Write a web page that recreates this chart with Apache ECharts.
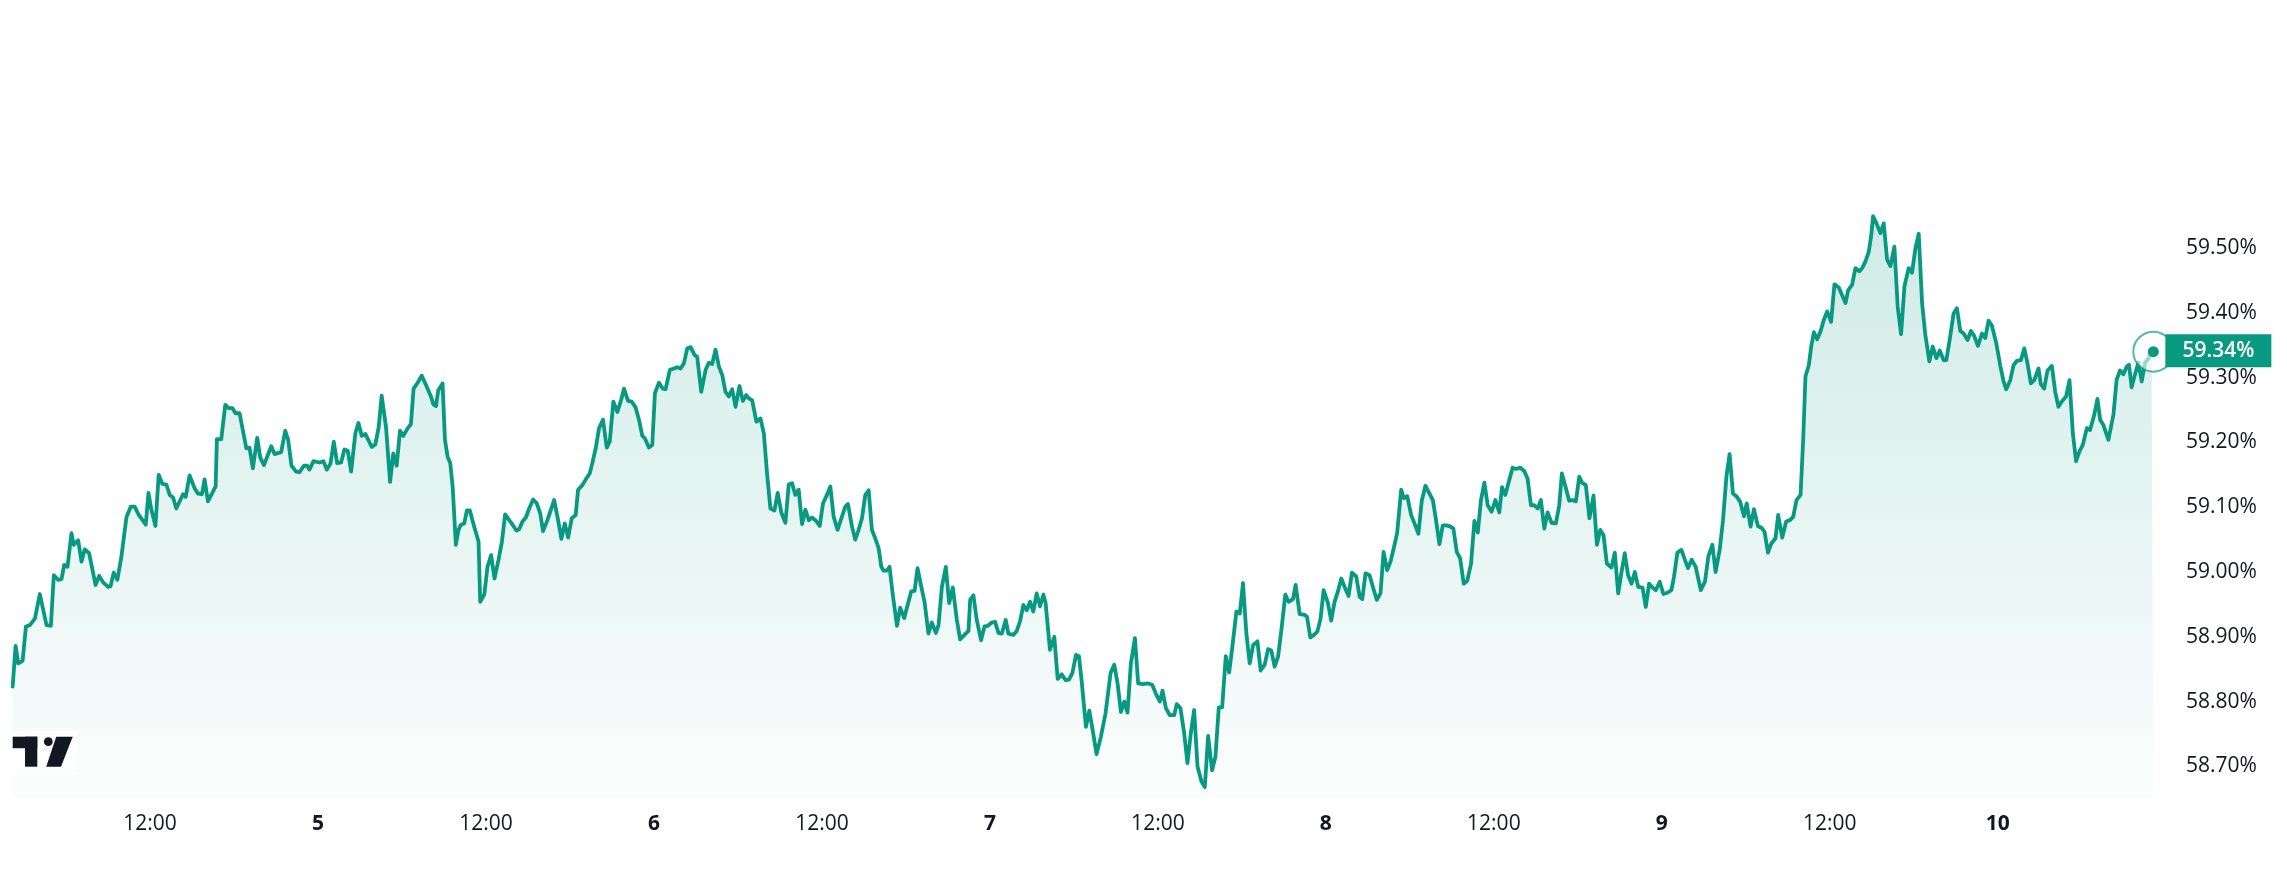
<!DOCTYPE html>
<html>
<head>
<meta charset="utf-8">
<script src="https://cdn.jsdelivr.net/npm/echarts@6/dist/echarts.min.js"></script>
<style>
html,body{margin:0;padding:0;background:#ffffff;}
#chart{width:2287px;height:882px;}
</style>
</head>
<body>
<div id="chart"></div>
<script>
// Hours since day "4" 00:00 (x) and dominance values in % (y)
var hours = [
2.19,2.40,2.59,2.90,3.14,3.42,3.78,4.13,4.61,4.92,5.13,5.44,5.68,5.87,6.11,6.39,6.56,6.87,7.11,7.34,7.65,8.11,8.37,8.65,9.01,9.18,9.41,9.67,9.96,10.32,10.63,10.91,11.20,11.70,11.89,12.10,12.39,12.62,12.88,13.17,13.41,13.65,13.88,14.36,14.55,14.83,15.19,15.43,15.71,15.90,16.14,16.69,16.78,17.09,17.38,17.62,17.88,18.11,18.40,18.88,19.11,19.35,19.66,19.87,20.14,20.66,20.90,21.37,21.66,21.87,22.11,22.44,22.68,22.99,23.23,23.39,23.68,24.11,24.39,24.63,24.89,25.13,25.37,25.65,25.89,26.13,26.37,26.67,26.89,27.13,27.39,27.84,28.10,28.34,28.55,
28.86,29.15,29.38,29.62,29.86,30.10,30.41,30.64,30.83,31.12,31.41,31.71,32.07,32.24,32.43,32.59,32.90,33.07,33.26,33.45,33.62,33.74,33.85,34.04,34.21,34.45,34.64,34.85,35.16,35.47,35.59,35.88,36.11,36.37,36.61,36.90,37.14,37.37,37.66,37.90,38.18,38.37,38.61,38.85,39.09,39.37,39.63,39.87,40.08,40.39,40.87,41.11,41.39,41.63,41.87,42.13,42.41,42.58,42.89,43.13,43.41,43.60,43.84,44.08,44.36,44.63,44.84,45.10,45.39,45.65,45.86,46.15,46.41,46.69,46.93,47.17,47.36,47.64,47.88,48.07,48.36,48.64,48.83,49.14,49.43,49.67,49.90,50.14,50.38,50.62,50.90,51.09,51.38,51.69,51.92,52.16,52.40,52.64,52.88,53.11,53.35,53.59,53.83,54.11,54.35,54.59,54.78,55.02,
55.32,55.61,55.85,56.08,56.32,56.61,56.84,57.11,57.39,57.63,57.87,58.10,58.34,58.58,58.82,59.06,59.29,59.58,59.84,60.08,60.36,60.60,60.84,61.12,61.39,61.67,61.86,62.15,62.38,62.62,62.86,63.10,63.34,63.57,63.81,64.05,64.24,64.41,64.64,64.83,65.05,65.36,65.59,65.88,66.12,66.38,66.62,66.83,67.07,67.33,67.61,67.85,68.14,68.33,68.57,68.85,69.09,69.35,69.64,69.87,70.18,70.47,70.59,70.82,71.06,71.37,71.61,71.85,72.13,72.37,72.61,72.85,73.13,73.32,73.68,73.92,74.15,74.39,74.63,74.87,75.10,75.34,75.58,75.82,75.98,76.29,76.60,76.84,77.13,77.41,77.65,77.89,78.15,78.36,78.55,78.86,79.10,79.34,79.62,79.93,80.26,80.62,80.88,81.12,81.36,
81.60,81.83,82.07,82.36,82.59,82.95,83.31,83.59,83.90,84.14,84.33,84.57,84.85,85.16,85.35,85.61,85.88,86.11,86.35,86.59,86.83,87.11,87.35,87.59,87.87,88.11,88.35,88.59,88.85,89.09,89.32,89.61,89.85,90.08,90.32,90.56,90.80,91.11,91.34,91.63,91.87,92.10,92.34,92.58,92.82,93.10,93.34,93.65,93.84,94.13,94.48,94.65,94.89,95.15,95.39,95.62,95.84,96.15,96.38,96.62,96.86,97.10,97.34,97.62,97.86,98.17,98.41,98.60,98.83,99.12,99.36,99.64,99.90,100.12,100.38,100.62,100.85,101.09,
101.38,101.57,101.81,102.09,102.33,102.61,102.85,103.11,103.40,103.64,103.87,104.11,104.35,104.63,104.90,105.11,105.35,105.59,105.85,106.09,106.37,106.61,106.85,107.08,107.32,107.56,107.84,108.11,108.39,108.58,108.82,109.10,109.34,109.58,109.89,110.17,110.41,110.65,110.89,111.13,111.36,111.60,111.84,112.12,112.43,112.67,112.86,113.10,113.38,113.62,113.86,114.10,114.29,114.57,114.83,115.12,115.36,115.60,115.83,116.07,116.40,116.64,116.88,117.12,117.35,117.59,117.83,118.07,118.31,118.62,118.85,119.09,119.33,119.57,119.85,120.11,120.40,120.68,120.87,121.11,121.40,121.64,121.87,122.13,122.42,122.78,
123.08,123.32,123.61,123.84,124.13,124.37,124.61,124.84,125.08,125.32,125.58,125.87,126.06,126.34,126.58,126.86,127.13,127.34,127.58,127.82,128.12,128.31,128.60,128.88,129.15,129.38,129.62,129.91,130.10,130.26,130.50,130.67,130.86,131.10,131.33,131.57,131.81,132.09,132.33,132.64,132.88,133.12,133.31,133.59,133.83,134.12,134.31,134.54,134.78,134.95,135.09,135.33,135.61,135.85,136.09,136.33,136.61,136.85,137.09,137.33,137.63,137.87,138.11,138.35,138.59,138.82,139.11,139.35,139.61,139.85,140.13,140.32,140.56,140.84,141.08,141.32,141.56,141.84,142.08,142.32,142.58,142.87,143.10,143.34,143.58,143.89,144.17,144.41,144.60,144.89,145.12,145.36,145.65,145.89,146.12,146.36,146.60,146.91,147.07,147.31,147.55,147.86,148.10,148.33,148.57,148.88,149.12,149.36,149.59,149.83,150.07,150.36,150.59,150.88,151.12,151.31,151.54,151.90,
152.26,152.49,152.73,152.97,153.21,153.37,153.56,153.80,154.04,154.28,154.52,154.75,154.99,155.11
];
var values = [
58.823,58.886,58.859,58.863,58.916,58.918,58.928,58.966,58.918,58.917,58.995,58.988,58.989,59.011,59.008,59.060,59.042,59.049,59.016,59.035,59.029,58.980,58.994,58.984,58.977,58.978,58.999,58.988,59.024,59.085,59.101,59.101,59.088,59.073,59.122,59.096,59.071,59.150,59.136,59.135,59.119,59.115,59.098,59.120,59.116,59.149,59.129,59.121,59.120,59.143,59.109,59.132,59.205,59.205,59.258,59.253,59.253,59.245,59.245,59.191,59.192,59.160,59.207,59.177,59.165,59.194,59.182,59.185,59.218,59.204,59.164,59.155,59.154,59.164,59.164,59.158,59.171,59.169,59.171,59.158,59.167,59.201,59.168,59.169,59.189,59.187,59.155,59.214,59.230,59.210,59.213,59.193,59.197,59.224,59.272,
59.224,59.139,59.183,59.164,59.218,59.210,59.222,59.228,59.283,59.292,59.303,59.289,59.271,59.259,59.256,59.280,59.291,59.204,59.178,59.168,59.132,59.085,59.042,59.065,59.073,59.075,59.095,59.095,59.070,59.047,58.954,58.965,59.008,59.026,58.990,59.019,59.047,59.089,59.080,59.073,59.064,59.066,59.078,59.084,59.098,59.112,59.106,59.091,59.063,59.080,59.111,59.085,59.051,59.075,59.053,59.083,59.088,59.127,59.134,59.143,59.152,59.168,59.191,59.222,59.235,59.192,59.201,59.263,59.247,59.265,59.283,59.264,59.263,59.254,59.235,59.210,59.206,59.192,59.196,59.276,59.292,59.283,59.282,59.312,59.314,59.316,59.314,59.322,59.345,59.347,59.335,59.332,59.278,59.312,59.323,59.321,59.343,59.317,59.304,59.278,59.271,59.282,59.255,59.287,59.264,59.273,59.268,59.265,
59.232,59.237,59.214,59.152,59.098,59.095,59.122,59.091,59.076,59.135,59.137,59.119,59.127,59.074,59.096,59.080,59.084,59.079,59.071,59.106,59.119,59.132,59.085,59.065,59.083,59.101,59.105,59.070,59.050,59.065,59.083,59.119,59.126,59.065,59.052,59.037,59.008,59.002,59.002,59.008,58.967,58.917,58.945,58.929,58.949,58.970,58.971,59.006,58.980,58.954,58.905,58.922,58.906,58.918,58.977,59.008,58.952,58.976,58.926,58.896,58.903,58.909,58.957,58.964,58.926,58.895,58.916,58.917,58.922,58.923,58.906,58.905,58.926,58.905,58.903,58.909,58.924,58.949,58.941,58.954,58.939,58.967,58.947,58.965,58.952,58.880,58.900,58.835,58.842,58.833,58.834,58.844,58.872,58.870,58.833,58.761,58.786,58.756,58.719,58.746,58.782,58.844,58.857,58.828,58.784,
58.800,58.783,58.859,58.898,58.828,58.827,58.828,58.826,58.810,58.800,58.817,58.790,58.779,58.779,58.796,58.790,58.751,58.705,58.751,58.787,58.700,58.677,58.668,58.747,58.694,58.715,58.791,58.791,58.870,58.845,58.885,58.939,58.936,58.983,58.905,58.859,58.887,58.893,58.848,58.857,58.881,58.879,58.854,58.869,58.910,58.965,58.954,58.958,58.980,58.935,58.934,58.931,58.899,58.903,58.908,58.928,58.972,58.952,58.925,58.954,58.970,58.990,58.977,58.963,58.999,58.993,58.962,58.958,58.998,58.995,58.977,58.957,58.967,59.031,59.003,59.016,59.037,59.060,
59.127,59.114,59.117,59.088,59.075,59.059,59.110,59.133,59.121,59.111,59.080,59.043,59.072,59.072,59.070,59.067,59.031,59.021,58.982,58.986,59.013,59.079,59.061,59.111,59.138,59.103,59.093,59.111,59.092,59.131,59.119,59.142,59.161,59.159,59.161,59.156,59.144,59.103,59.103,59.098,59.111,59.067,59.092,59.076,59.075,59.103,59.152,59.133,59.110,59.111,59.109,59.147,59.138,59.134,59.083,59.118,59.042,59.065,59.057,59.013,59.007,59.030,58.967,59.000,59.029,58.995,58.982,59.000,58.977,58.976,58.946,58.982,58.976,58.972,58.985,58.966,58.968,58.972,58.993,59.030,59.034,59.019,59.006,59.019,59.008,58.972,
58.985,59.024,59.042,59.000,59.034,59.080,59.147,59.182,59.121,59.117,59.109,59.086,59.106,59.070,59.097,59.071,59.068,59.062,59.030,59.044,59.052,59.088,59.053,59.078,59.080,59.085,59.111,59.119,59.206,59.302,59.319,59.348,59.370,59.359,59.371,59.389,59.402,59.386,59.444,59.439,59.427,59.415,59.435,59.443,59.469,59.464,59.469,59.479,59.494,59.518,59.549,59.538,59.523,59.538,59.482,59.472,59.502,59.409,59.367,59.441,59.469,59.462,59.499,59.522,59.415,59.366,59.325,59.348,59.330,59.342,59.327,59.327,59.358,59.399,59.407,59.372,59.368,59.358,59.372,59.364,59.349,59.368,59.361,59.388,59.380,59.353,59.319,59.294,59.282,59.296,59.319,59.326,59.327,59.345,59.322,59.291,59.296,59.314,59.290,59.283,59.311,59.318,59.278,59.255,59.263,59.271,59.296,59.214,59.171,59.186,59.196,59.222,59.219,59.242,59.267,59.235,59.227,59.204,
59.243,59.297,59.311,59.305,59.317,59.320,59.285,59.305,59.323,59.294,59.323,59.329,59.341,59.340
];
// Tick labels
var yTickValues = [58.70,58.80,58.90,59.00,59.10,59.20,59.30,59.40,59.50];
var xTickHours = [12,24,36,48,60,72,84,96,108,120,132,144];
var firstDay = 4;
var noonLabel = '12:00';

var GREEN = '#089981';
var TEXT = '#131722';
var FONT = '"Open Sans", "Noto Sans", sans-serif';

var lineData = hours.map(function (h, i) { return [h, values[i]]; });
var lastT = hours[hours.length - 1];
var lastV = values[values.length - 1];

var chart = echarts.init(document.getElementById('chart'), null, { renderer: 'canvas' });

var option = {
  backgroundColor: '#ffffff',
  animation: false,
  grid: { left: 0, right: 117, top: 53.6, bottom: 83.2, containLabel: false },
  xAxis: {
    type: 'value',
    min: 1.5,
    max: 156.3,
    interval: 1.5,
    axisLine: { show: false },
    axisTick: { show: false },
    splitLine: { show: false },
    axisLabel: {
      show: true,
      margin: 25.7,
      verticalAlign: 'middle',
      color: TEXT,
      fontSize: 21,
      fontFamily: FONT,
      formatter: function (v) {
        for (var i = 0; i < xTickHours.length; i++) {
          if (Math.abs(v - xTickHours[i]) < 1e-6) {
            if (xTickHours[i] % 24 === 0) return '{d|' + (firstDay + xTickHours[i] / 24) + '}';
            return noonLabel;
          }
        }
        return '';
      },
      rich: { d: { fontWeight: 'bold', fontSize: 21, color: TEXT, fontFamily: FONT } }
    }
  },
  yAxis: {
    type: 'value',
    position: 'right',
    min: 58.65,
    max: 59.8,
    interval: 0.05,
    axisLine: { show: false },
    axisTick: { show: false },
    splitLine: { show: false },
    axisLabel: {
      show: true,
      inside: false,
      margin: 16,
      align: 'left',
      color: TEXT,
      fontSize: 21,
      fontFamily: FONT,
      formatter: function (v) {
        for (var i = 0; i < yTickValues.length; i++) {
          if (Math.abs(v - yTickValues[i]) < 1e-6) return yTickValues[i].toFixed(2) + '%';
        }
        return '';
      }
    }
  },
  series: [{
    type: 'line',
    data: lineData,
    showSymbol: false,
    symbol: 'none',
    smooth: false,
    lineStyle: { color: GREEN, width: 3.8, join: 'round', cap: 'round' },
    areaStyle: {
      color: {
        type: 'linear', x: 0, y: 215, x2: 0, y2: 840, global: true,
        colorStops: [
          { offset: 0, color: 'rgba(8,153,129,0.28)' },
          { offset: 1, color: 'rgba(8,153,129,0)' }
        ]
      }
    },
    markPoint: {
      silent: true,
      animation: false,
      data: [
        { coord: [lastT, lastV], symbol: 'circle', symbolSize: 40,
          itemStyle: { color: 'rgba(255,255,255,0.6)', borderColor: 'rgba(8,153,129,0.7)', borderWidth: 2 },
          label: { show: false } },
        { coord: [lastT, lastV], symbol: 'rect', symbolSize: [106, 33], symbolOffset: [65, -1],
          itemStyle: { color: GREEN },
          label: { show: true, position: 'inside', formatter: lastV.toFixed(2) + '%', color: '#ffffff',
                   fontSize: 21, fontWeight: 600, fontFamily: FONT } },
        { coord: [lastT, lastV], symbol: 'circle', symbolSize: 11,
          itemStyle: { color: GREEN }, label: { show: false } }
      ]
    }
  }],
  graphic: [
    { type: 'rect', z: 100, shape: { x: 9, y: 731, width: 68, height: 44 }, style: { fill: 'rgba(255,255,255,0.7)' } },
    { type: 'rect', z: 101, shape: { x: 12.7, y: 736.7, width: 24.6, height: 11.5 }, style: { fill: TEXT } },
    { type: 'rect', z: 101, shape: { x: 25, y: 736.7, width: 12.3, height: 30 }, style: { fill: TEXT } },
    { type: 'circle', z: 101, shape: { cx: 48.3, cy: 741.7, r: 4.4 }, style: { fill: TEXT } },
    { type: 'polygon', z: 101, shape: { points: [[56.2, 736.7], [72.7, 736.7], [61, 766.7], [46.2, 766.7]] }, style: { fill: TEXT } }
  ]
};
chart.setOption(option);
</script>
</body>
</html>
